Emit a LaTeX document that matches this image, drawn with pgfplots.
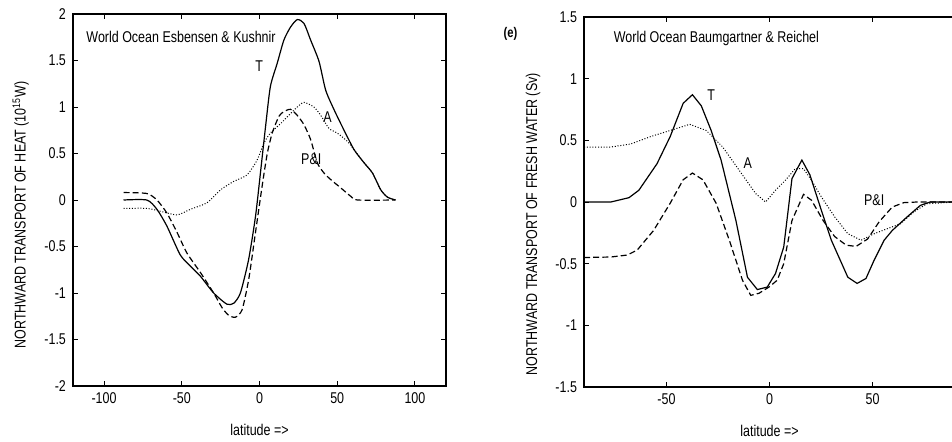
\documentclass[border=0pt]{standalone}
\usepackage{pgfplots}
\pgfplotsset{compat=1.18}
\usepackage{fontspec}
\setmainfont{Liberation Sans}[FakeStretch=0.8]

\pgfplotsset{
  panel/.style={
    scale only axis,
    clip=false,
    axis line style={line width=0.6pt},
    tick style={line width=0.5pt, black},
    tick align=inside,
    major tick length=2.5pt,
    /pgf/number format/assume math mode=true,
    tick label style={font=\fontsize{7.8}{9}\selectfont},
    label style={font=\fontsize{7.8}{9}\selectfont},
    xlabel={latitude =>},
    xlabel style={at={(axis description cs:0.5,0)}, anchor=center, yshift=-22pt},
  },
  solidc/.style={black, line width=0.6pt},
  dashc/.style={black, line width=0.6pt, dash pattern=on 3pt off 1.6pt},
  dotc/.style={black, line width=0.5pt, dash pattern=on 0.5pt off 0.9pt},
}
\tikzset{lab/.style={font=\fontsize{7.8}{9}\selectfont, inner sep=0pt}}

\begin{document}
\begin{tikzpicture}
\useasboundingbox (-36.5pt,-27.5pt) rectangle (439.5pt,193pt);

% left: heat transport
\begin{axis}[panel,
  at={(0pt,0pt)}, anchor=south west,
  width=186.5pt, height=186pt,
  xmin=-120, xmax=120, ymin=-2, ymax=2,
  xtick={-100,-50,0,50,100},
  ytick={-2,-1.5,-1,-0.5,0,0.5,1,1.5,2},
  ylabel={NORTHWARD TRANSPORT OF HEAT (10\textsuperscript{15}W)},
  ylabel style={at={(axis description cs:-0.14,0.46)}, anchor=center},
]
\addplot[solidc, smooth, tension=0.4] coordinates {
(-87.5,0) (-72.5,0) (-66,-0.1) (-59.6,-0.28) (-51,-0.59) (-44.5,-0.71) (-38,-0.82)
(-29.5,-1.0) (-21,-1.12) (-16.6,-1.11) (-12.3,-1.0) (-7,-0.64) (-2.6,-0.18) (0.6,0.29)
(3.9,0.79) (7,1.22) (11.4,1.47) (15.7,1.72) (20,1.86) (24.3,1.94) (28.6,1.90) (32.9,1.72)
(38.3,1.49) (42.6,1.18) (48,0.97) (54.4,0.75) (60.9,0.54) (67.3,0.40) (72.7,0.29)
(78,0.11) (82.4,0.03) (87.5,0)
};
\addplot[dashc, smooth, tension=0.4] coordinates {
(-87.5,0.08) (-72.5,0.07) (-66,0.0) (-59.6,-0.14) (-53,-0.35) (-46.7,-0.57) (-38,-0.78)
(-29.5,-1.0) (-24,-1.16) (-19.8,-1.24) (-15.5,-1.26) (-11.2,-1.18) (-6.9,-0.85)
(-2.6,-0.35) (1.7,0.15) (5,0.5) (8.2,0.72) (12.5,0.90) (15.7,0.95) (20,0.975) (24.3,0.91)
(28.6,0.81) (32.9,0.65) (37.2,0.40) (41.5,0.29) (45.8,0.22) (52.3,0.13) (58.7,0.04)
(63,0) (87.5,0)
};
\addplot[dotc, smooth, tension=0.4] coordinates {
(-87.5,-0.09) (-72.5,-0.09) (-64,-0.12) (-53,-0.16) (-44.5,-0.10) (-33.8,-0.03)
(-25,0.11) (-16.6,0.2) (-8,0.27) (-1.5,0.43) (2.8,0.61) (7,0.72) (13.5,0.82) (20,0.93)
(24.3,1.0) (28.6,1.05) (35,1.0) (39.4,0.91) (44.7,0.77) (50,0.72) (56.6,0.63)
(60.9,0.54) (67.3,0.40) (72.7,0.29) (78,0.11) (82.4,0.03) (87.5,0)
};
\node[lab, anchor=west] at (axis cs:-111.6,1.75) {World Ocean Esbensen \& Kushnir};
\node[lab] at (axis cs:-0.2,1.44) {T};
\node[lab] at (axis cs:43.7,0.89) {A};
\node[lab] at (axis cs:33.3,0.44) {P\&I};
\end{axis}

% right: fresh water transport
\begin{axis}[panel,
  at={(255.5pt,-0.5pt)}, anchor=south west,
  width=185.5pt, height=185pt,
  xmin=-90, xmax=90, ymin=-1.5, ymax=1.5,
  xtick={-50,0,50},
  ytick={-1.5,-1,-0.5,0,0.5,1,1.5},
  ytick pos=left,
  ylabel={NORTHWARD TRANSPORT OF FRESH WATER (Sv)},
  ylabel style={at={(axis description cs:-0.137,0.44)}, anchor=center},
]
\addplot[solidc] coordinates {
(-90,0) (-77,0) (-68.2,0.035) (-63.4,0.095) (-54.6,0.31) (-48.2,0.53) (-41.9,0.80)
(-37.4,0.87) (-33.1,0.78) (-28.3,0.58) (-23.5,0.34) (-16.3,-0.15) (-10.7,-0.61)
(-5.9,-0.71) (-1.1,-0.69) (2.9,-0.58) (6.9,-0.365) (10.9,0.19) (15.7,0.34) (19.6,0.22)
(25.2,-0.07) (30,-0.31) (38,-0.61) (42.5,-0.66) (46.8,-0.62) (50.8,-0.47) (55.6,-0.31)
(59.6,-0.23) (66.8,-0.12) (73.2,-0.027) (78,0) (90,0)
};
\addplot[dashc] coordinates {
(-90,-0.45) (-77,-0.446) (-69,-0.43) (-64.2,-0.39) (-56.2,-0.23) (-48.2,-0.01)
(-41.9,0.18) (-37.4,0.235) (-32.3,0.18) (-25.9,-0.01) (-19.5,-0.31) (-13.1,-0.635)
(-9.1,-0.757) (-5.1,-0.74) (-0.3,-0.69) (3.7,-0.635) (6.9,-0.5) (10.9,-0.15) (16.5,0.062)
(20.4,0.014) (26,-0.15) (31.6,-0.28) (37.2,-0.35) (42,-0.36) (47.6,-0.30) (53.2,-0.16)
(59.6,-0.04) (65.2,-0.005) (71.6,0) (90,0)
};
\addplot[dotc] coordinates {
(-90,0.446) (-77,0.446) (-67.4,0.47) (-57.8,0.53) (-48.2,0.58) (-38.7,0.63) (-30.7,0.58)
(-22.7,0.446) (-14.7,0.257) (-6.7,0.068) (-1.9,0.0) (2.9,0.095) (7.7,0.176) (12.5,0.27)
(16.5,0.27) (20.4,0.176) (25.2,0.04) (31.6,-0.12) (38,-0.257) (44.4,-0.31) (50.8,-0.257)
(57.2,-0.216) (63.6,-0.176) (70,-0.08) (76.4,-0.014) (90,0)
};
\node[lab, anchor=west] at (axis cs:-75.7,1.33) {World Ocean Baumgartner \& Reichel};
\node[lab] at (axis cs:-28.3,0.868) {T};
\node[lab] at (axis cs:-10.5,0.316) {A};
\node[lab] at (axis cs:50.8,0.0135) {P\&I};
\node[font=\fontsize{7}{8}\selectfont\bfseries] at (axis cs:-125.7,1.36) {(e)};
\end{axis}
\end{tikzpicture}
\end{document}
